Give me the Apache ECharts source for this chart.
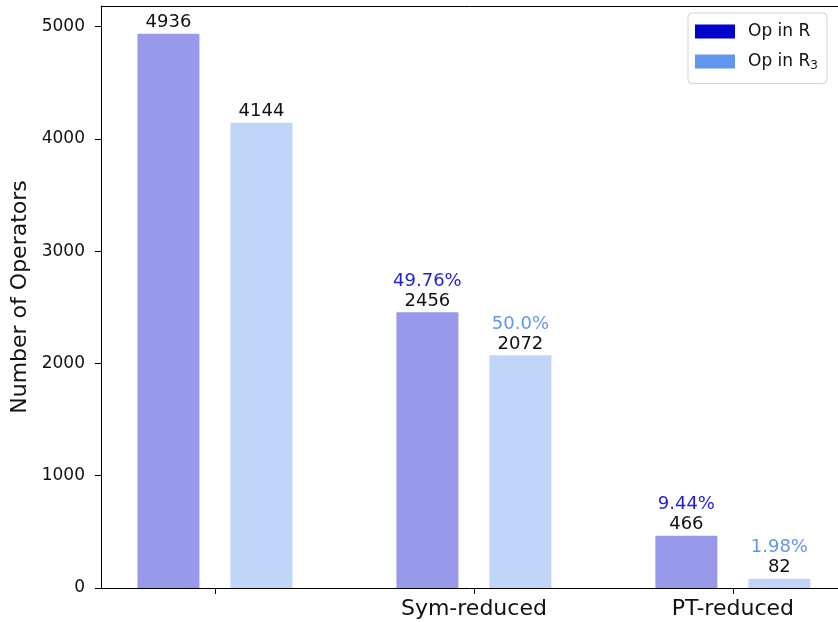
<!DOCTYPE html>
<html>
<head>
<meta charset="utf-8">
<script src="https://cdn.jsdelivr.net/npm/echarts@6/dist/echarts.min.js"></script>
<style>
  html, body { margin: 0; padding: 0; background: #fff; }
  #main { width: 838px; height: 622px; }
</style>
</head>
<body>
<div id="main"></div>
<script>
// category positions on the x axis and their labels
const categories = ['', 'Sym-reduced', 'PT-reduced'];
const positions = [0, 1, 2];
const opR = [4936, 2456, 466];
const opR3 = [4144, 2072, 82];
const pctR = ['', '49.76%', '9.44%'];
const pctR3 = ['', '50.0%', '1.98%'];
const yTicks = [0, 1000, 2000, 3000, 4000, 5000];

const font = 'DejaVu Sans';

function barLabel(pcts) {
  return function (p) {
    const pct = pcts[p.dataIndex];
    const v = '{v|' + p.value[1] + '}';
    return pct ? '{p|' + pct + '}\n' + v : v;
  };
}

function makeSeries(name, values, pcts, color, pctColor) {
  return {
    name: name,
    type: 'bar',
    barWidth: 62,
    barGap: '50%',
    data: positions.map((x, i) => [x, values[i]]),
    itemStyle: { color: color },
    label: {
      show: true,
      position: 'top',
      distance: 1,
      formatter: barLabel(pcts),
      rich: {
        p: { fontFamily: font, fontSize: 18, color: pctColor, lineHeight: 20 },
        v: { fontFamily: font, fontSize: 18, color: '#111', lineHeight: 20 }
      }
    }
  };
}

const chart = echarts.init(document.getElementById('main'));
const option = {
  animation: false,
  backgroundColor: '#fff',
  grid: { left: 101, top: 6, right: 0, bottom: 34 },
  legend: {
    orient: 'vertical',
    left: 688,
    top: 13,
    padding: [10, 9, 12, 7],
    icon: 'rect',
    itemWidth: 40,
    itemHeight: 14,
    itemGap: 13,
    borderColor: '#d4d4d4',
    borderWidth: 1,
    borderRadius: 4,
    backgroundColor: '#fff',
    data: [
      { name: 'Op in R', itemStyle: { color: '#0000cd' } },
      { name: 'Op in R3', itemStyle: { color: '#6495ed' } }
    ],
    formatter: function (name) {
      return name === 'Op in R3' ? 'Op in R{sub|3}' : name;
    },
    textStyle: {
      fontFamily: font,
      fontSize: 17,
      color: '#111',
      padding: [0, 0, 0, 8],
      rich: {
        sub: { fontFamily: font, fontSize: 12, color: '#111', padding: [8, 0, 0, 0] }
      }
    }
  },
  xAxis: [{
    type: 'value',
    min: -0.44,
    max: 2.406,
    splitLine: { show: false },
    axisLine: { onZero: false, lineStyle: { color: '#000' } },
    axisTick: { show: true, length: 6, lineStyle: { color: '#000' }, customValues: positions },
    axisLabel: {
      customValues: positions,
      margin: 10,
      fontFamily: font,
      fontSize: 22,
      color: '#111',
      formatter: function (v) { return categories[Math.round(v)]; }
    }
  }, {
    // top spine only
    type: 'value',
    position: 'top',
    min: -0.44,
    max: 2.406,
    splitLine: { show: false },
    axisLine: { show: true, onZero: false, lineStyle: { color: '#000' } },
    axisTick: { show: false },
    axisLabel: { show: false }
  }],
  yAxis: {
    type: 'value',
    min: 0,
    max: 5183,
    name: 'Number of Operators',
    nameLocation: 'middle',
    nameGap: 68,
    nameTextStyle: { fontFamily: font, fontSize: 22, color: '#111' },
    splitLine: { show: false },
    axisLine: { show: true, onZero: false, lineStyle: { color: '#000' } },
    axisTick: { show: true, length: 6, lineStyle: { color: '#000' }, customValues: yTicks },
    axisLabel: {
      customValues: yTicks,
      margin: 16,
      fontFamily: font,
      fontSize: 17,
      color: '#111',
      formatter: function (v) { return String(v); }
    }
  },
  series: [
    makeSeries('Op in R', opR, pctR, 'rgba(0,0,205,0.4)', '#1f1fd6'),
    makeSeries('Op in R3', opR3, pctR3, 'rgba(100,149,237,0.4)', '#6495ed')
  ]
};
chart.setOption(option);
</script>
</body>
</html>
